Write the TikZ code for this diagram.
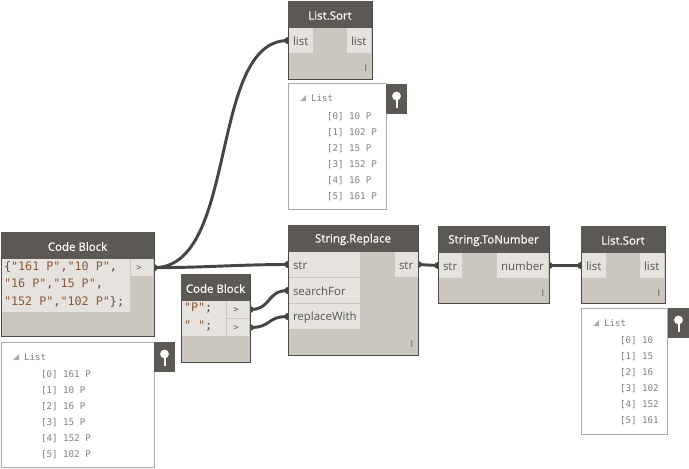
\documentclass[tikz,border=0pt]{standalone}
\usepackage{fontspec}
\setmainfont{Open Sans}
\newfontfamily\codefont{DejaVu Sans Mono}
\newfontfamily\titlefont[FakeBold=0.6]{Open Sans}
\usetikzlibrary{backgrounds}
\definecolor{hdr}{HTML}{5C5955}
\definecolor{bodyc}{HTML}{CBC6BE}
\definecolor{portc}{HTML}{E6E3DE}
\definecolor{edge}{HTML}{4A4A48}
\definecolor{wirec}{HTML}{454545}
\definecolor{labelc}{HTML}{555555}
\definecolor{brownc}{HTML}{8A5A3A}
\definecolor{watchc}{HTML}{AAAAAA}
\definecolor{greyt}{HTML}{808080}
\tikzset{
  x=0.75pt,y=-0.75pt,
  every node/.style={inner sep=0pt,outer sep=0pt,anchor=north west},
  nodebox/.style={draw=edge,line width=0.75pt,fill=bodyc,minimum width=#1},
  portlabel/.style={text=labelc,font=\fontsize{8.6}{10}\selectfont,anchor=west},
  watch/.style={draw=watchc,line width=0.6pt,fill=white},
  pin/.style={fill=hdr},
  listhead/.style={text=greyt,font=\codefont\fontsize{6.9}{8}\selectfont,anchor=west},
  listitem/.style={text=greyt,font=\codefont\fontsize{6.9}{8}\selectfont,anchor=west},
  codetext/.style={text=brownc,font=\codefont\fontsize{8.8}{13.1}\selectfont,align=left,anchor=north west},
  lacing/.style={text=labelc,font=\fontsize{7}{8}\selectfont,anchor=center},
  wire/.style={draw=wirec,line width=2.2pt},
  nub/.style={fill=wirec,draw=none,circle,minimum size=5.4pt,anchor=center},
}
\newcommand{\nodeframe}[7]{% name x y w h headerh title
  \node[nodebox=#4*0.75pt,minimum height=#5*0.75pt] (#1) at (#2,#3) {};
  \fill[hdr] (#2,#3) rectangle ++(#4,#6);
  \node[text=white,font=\titlefont\fontsize{8.6}{10}\selectfont,anchor=center] (#1title) at ({#2+#4/2},{#3+#6/2+1}) {#7};
}
\newcommand{\portbox}[6]{% name x y w h text
  \node[fill=portc,minimum width=#4*0.75pt,minimum height=#5*0.75pt] (#1) at (#2,#3) {};
  \node[portlabel] (#1t) at ({#2+4},{#3+#5/2+1}) {#6};
}
\newcommand{\watchbox}[7]{% name x y w h pinx piny
  \node[watch,minimum width=#4*0.75pt,minimum height=#5*0.75pt] (#1) at (#2,#3) {};
  \node[pin,minimum width=16pt,minimum height=22.5pt] (#1p) at (#6,#7) {};
  \fill[white] ({#6+10.5},{#7+12}) circle (4.4);
  \fill[white] ({#6+9.5},{#7+14}) rectangle ({#6+11.8},{#7+24});
  \fill[watchc] ({#2+18},{#3+12}) -- ({#2+18},{#3+18}) -- ({#2+12},{#3+18}) -- cycle;
  \node[listhead] (#1l) at ({#2+23},{#3+15.5}) {List};
}
\newcommand{\witem}[3]{\node[listitem] at (#1,{#2+1.2}) {#3};}
\begin{document}
\begin{tikzpicture}
\useasboundingbox (0,0) rectangle (689,468);

% Code Block 1
\nodeframe{cbone}{1}{232}{153}{104}{27}{Code Block}
\node[fill=portc,minimum width=96pt,minimum height=39.5pt] (cbonetxt) at (2,259) {};
\node[fill=portc,minimum width=16.5pt,minimum height=13pt] (cboneout) at (131,259) {};
\node[portlabel,anchor=center] at (139,268) {\codefont\fontsize{6.5}{8}\selectfont >};
\node[codetext] (cbonecode) at (4,261.5) {\textcolor{edge}{\{}"161 P"\textcolor{edge}{,}"10 P"\textcolor{edge}{,}\\"16 P"\textcolor{edge}{,}"15 P"\textcolor{edge}{,}\\"152 P"\textcolor{edge}{,}"102 P"\textcolor{edge}{\};}};
\watchbox{wone}{1}{342}{153}{125}{154}{342}
\witem{41}{373}{[0] 161 P}
\witem{41}{389}{[1] 10 P}
\witem{41}{405}{[2] 16 P}
\witem{41}{421}{[3] 15 P}
\witem{41}{437}{[4] 152 P}
\witem{41}{453}{[5] 102 P}

% Code Block 2
\nodeframe{cbtwo}{181}{274}{69}{88}{27}{Code Block}
\node[fill=portc,minimum width=33pt,minimum height=26pt] (cbtwotxt) at (182,301) {};
\node[fill=portc,minimum width=16.5pt,minimum height=12.8pt] (cbtwoa) at (227,301) {};
\node[fill=portc,minimum width=16.5pt,minimum height=12.8pt] (cbtwob) at (227,319) {};
\node[portlabel,anchor=center] at (236,310) {\codefont\fontsize{6.5}{8}\selectfont >};
\node[portlabel,anchor=center] at (236,328) {\codefont\fontsize{6.5}{8}\selectfont >};
\node[codetext] (cbtwocode) at (184,303) {"P"\textcolor{edge}{;}\\[0.5pt]" "\textcolor{edge}{;}};

% List.Sort top
\nodeframe{lsa}{288}{1}{84}{78}{27}{List.Sort}
\portbox{lsain}{289}{28}{24}{25}{list}
\portbox{lsaout}{347}{28}{24}{25}{list}
\node[lacing] at (366,68) {I};
\watchbox{wa}{288}{83}{98}{126}{386}{84}
\witem{327}{115}{[0] 10 P}
\witem{327}{131}{[1] 102 P}
\witem{327}{147}{[2] 15 P}
\witem{327}{163}{[3] 152 P}
\witem{327}{179}{[4] 16 P}
\witem{327}{195}{[5] 161 P}

% String.Replace
\nodeframe{sr}{288}{225}{130}{130}{27}{String.Replace}
\portbox{srstr}{289}{252}{71}{25}{str}
\portbox{srsearch}{289}{278}{71}{25}{searchFor}
\portbox{srrepl}{289}{304}{71}{25}{replaceWith}
\portbox{srout}{395}{252}{23}{25}{str}
\node[lacing] at (412,344) {I};

% String.ToNumber
\nodeframe{tn}{438}{226}{111}{77}{27}{String.ToNumber}
\portbox{tnin}{439}{253}{23}{25}{str}
\portbox{tnout}{497}{253}{51}{25}{number}
\node[lacing] at (543,293) {I};

% List.Sort right
\nodeframe{lsb}{581}{226}{84}{77}{27}{List.Sort}
\portbox{lsbin}{582}{253}{24}{25}{list}
\portbox{lsbout}{640}{253}{24}{25}{list}
\node[lacing] at (659,293) {I};
\watchbox{wb}{581}{308}{86}{126}{668}{308}
\witem{620}{339}{[0] 10}
\witem{620}{355}{[1] 15}
\witem{620}{371}{[2] 16}
\witem{620}{387}{[3] 102}
\witem{620}{403}{[4] 152}
\witem{620}{419}{[5] 161}

% connectors
\begin{scope}[on background layer]
\fill[white] (0,0) rectangle (689,468);
\coordinate (p1) at (cbone.north east |- cboneout.east);
\coordinate (p2) at (cbtwo.north east |- cbtwoa.east);
\coordinate (p3) at (cbtwo.north east |- cbtwob.east);
\coordinate (q1) at (lsa.north west |- lsain.west);
\coordinate (q2) at (sr.north west |- srstr.west);
\coordinate (q3) at (sr.north west |- srsearch.west);
\coordinate (q4) at (sr.north west |- srrepl.west);
\coordinate (r1) at (sr.north east |- srout.east);
\coordinate (r2) at (tn.north west |- tnin.west);
\coordinate (r3) at (tn.north east |- tnout.east);
\coordinate (r4) at (lsb.north west |- lsbin.west);
\draw[wire] (p1) .. controls +(85,0) and +(-80,0) .. (q1);
\draw[wire] (p1) .. controls +(50,0) and +(-50,0) .. (q2);
\draw[wire] (p2) .. controls +(22,0) and +(-22,0) .. (q3);
\draw[wire] (p3) .. controls +(22,0) and +(-22,0) .. (q4);
\draw[wire] (r1) -- (r2);
\draw[wire] (r3) -- (r4);
\foreach \c in {p1,p2,p3,q1,q2,q3,q4,r1,r2,r3,r4}{\node[nub] at (\c) {};}
\end{scope}
\end{tikzpicture}
\end{document}
